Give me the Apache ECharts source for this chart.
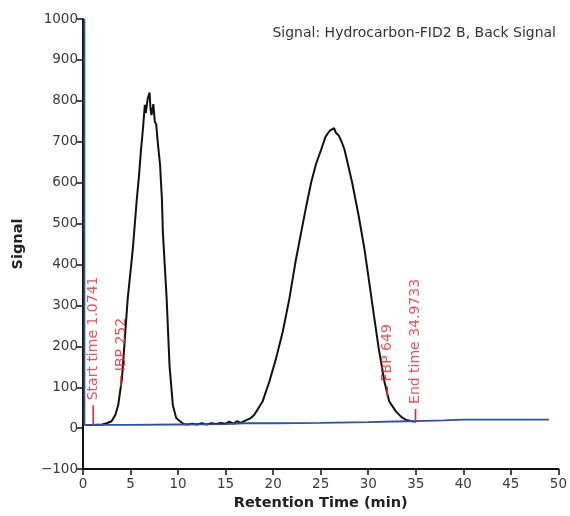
<!DOCTYPE html>
<html>
<head>
<meta charset="utf-8">
<script src="https://cdn.jsdelivr.net/npm/echarts@6/dist/echarts.min.js"></script>
<style>html,body{margin:0;padding:0;background:#fff}#c{width:570px;height:516px}</style>
</head>
<body>
<div id="c"></div>
<script>
// Chromatogram (black) – retention time (min) and signal
const sampleTime = [0.3, 1, 2, 2.5, 3.0, 3.4, 3.7, 4.1, 4.4, 4.7, 5.24, 5.66, 5.9, 6.1, 6.3, 6.5, 6.6, 6.8, 7.0, 7.1, 7.2, 7.4, 7.55, 7.7, 7.9, 8.1, 8.3, 8.4, 8.8, 9.1, 9.45, 9.8, 10.2, 10.6, 11, 11.5, 12, 12.5, 13, 13.5, 14, 14.5, 15, 15.4, 15.8, 16.2, 16.6, 17.0, 17.2, 17.6, 18.0, 18.9, 19.6, 20.3, 21.0, 21.7, 22.4, 22.95, 23.5, 24.0, 24.5, 25.05, 25.5, 25.8, 26.0, 26.2, 26.4, 26.6, 26.9, 27.2, 27.5, 28.3, 29.0, 29.6, 30.1, 30.6, 31.1, 31.7, 32.2, 32.9, 33.5, 34.0, 34.6, 35.0];
const sampleSignal = [8, 8, 9, 12, 17, 32, 56, 122, 219, 316, 438, 560, 620, 680, 730, 790, 770, 805, 820, 780, 765, 792, 750, 742, 690, 645, 560, 479, 316, 153, 56, 25, 17, 10, 9, 11, 9, 12, 9, 12, 10, 13, 11, 16, 11, 17, 13, 18, 17, 24, 32, 66, 114, 170, 235, 316, 413, 479, 545, 601, 645, 681, 712, 722, 728, 724, 733, 722, 715, 700, 681, 601, 518, 438, 357, 275, 195, 114, 66, 41, 27, 20, 17, 16];
// Baseline signal (blue)
const baseTime = [0.15, 0.15, 0.3, 5, 10, 15, 17, 20, 25, 30, 34, 36, 38, 40, 45, 49];
const baseSignal = [1000, 8, 8, 8, 9, 10, 12, 12, 13, 15, 17, 18, 19, 21, 21, 21];
// Markers
const markerTime = [1.0741, 4.0, 32.0, 34.9733];
const markerLow = [7, 102, 78, 15];
const markerHigh = [56, 127, 102, 47];
const markerText = ['Start time 1.0741', 'IBP 252', 'FBP 649', 'End time 34.9733'];
// Axes
const xMin = 0, xMax = 50, xStep = 5;
const yMin = -100, yMax = 1000, yStep = 100;
const titleText = 'Signal: Hydrocarbon-FID2 B, Back Signal';
const xName = 'Retention Time (min)';
const yName = 'Signal';

const FONT = '"DejaVu Sans", Verdana, sans-serif';
const chart = echarts.init(document.getElementById('c'), null, {renderer: 'canvas'});
const fmt = v => String(v).replace('-', '\u2212');

const series = [];
series.push({
  type: 'line', name: 'signal', showSymbol: false, symbol: 'none', z: 3,
  lineStyle: {color: '#111', width: 2},
  data: sampleTime.map((t, i) => [t, sampleSignal[i]])
});
series.push({
  type: 'line', name: 'baseline', showSymbol: false, symbol: 'none', z: 4,
  lineStyle: {color: '#2b52a8', width: 1.8},
  data: baseTime.map((t, i) => [t, baseSignal[i]])
});
markerTime.forEach((t, i) => {
  series.push({
    type: 'line', showSymbol: false, symbol: 'none', z: 5,
    lineStyle: {color: '#e8262b', width: 1.6},
    data: [[t, markerLow[i]], [t, markerHigh[i]]]
  });
});
series.push({
  type: 'scatter', symbolSize: 0, z: 6,
  data: markerTime.map((t, i) => ({value: [t, markerHigh[i]], name: markerText[i]})),
  label: {
    show: true, formatter: p => p.name, rotate: 90, position: 'top', distance: 5,
    align: 'left', verticalAlign: 'middle',
    color: '#e8262b', fontFamily: FONT, fontSize: 14
  }
});

chart.setOption({
  animation: false,
  backgroundColor: '#fff',
  title: {
    text: titleText, right: 9, top: 21,
    textStyle: {fontFamily: FONT, fontSize: 14, fontWeight: 'normal', color: '#333'}
  },
  grid: {left: 83, right: 10, top: 19, bottom: 45},
  xAxis: {
    type: 'value', min: xMin, max: xMax, interval: xStep,
    name: xName, nameLocation: 'middle', nameGap: 26,
    nameTextStyle: {fontFamily: FONT, fontSize: 14.5, fontWeight: 'bold', color: '#222'},
    axisLine: {onZero: false, lineStyle: {color: '#111', width: 2}},
    axisTick: {show: true, length: 6, lineStyle: {color: '#111', width: 1.5}},
    axisLabel: {fontFamily: FONT, fontSize: 13.5, color: '#3a3a3a', margin: 8, formatter: fmt},
    splitLine: {show: false}
  },
  yAxis: {
    type: 'value', min: yMin, max: yMax, interval: yStep,
    name: yName, nameLocation: 'middle', nameGap: 57, nameRotate: 90,
    nameTextStyle: {fontFamily: FONT, fontSize: 14.5, fontWeight: 'bold', color: '#222'},
    axisLine: {show: true, onZero: false, lineStyle: {color: '#111', width: 2}},
    axisTick: {show: true, length: 7, lineStyle: {color: '#111', width: 1.5}},
    axisLabel: {fontFamily: FONT, fontSize: 13.5, color: '#3a3a3a', margin: 5, formatter: fmt},
    splitLine: {show: false}
  },
  series: series
});
</script>
</body>
</html>
